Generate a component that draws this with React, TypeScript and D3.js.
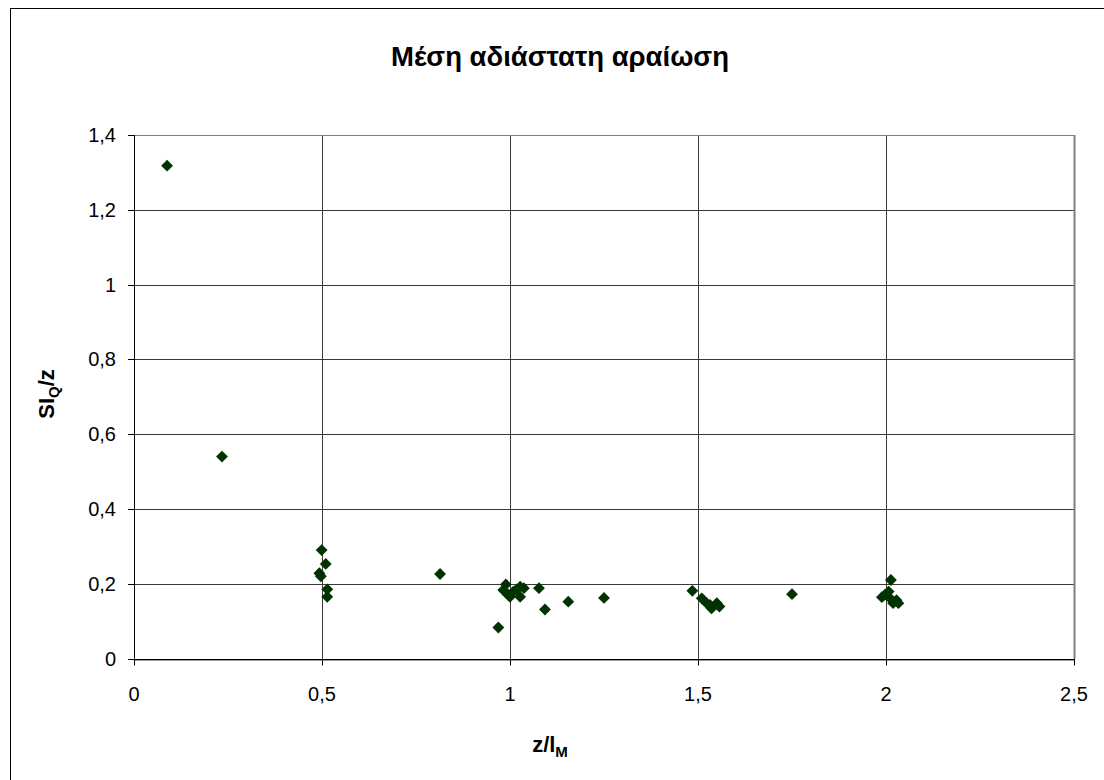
import React from "react";
import * as d3 from "d3";

const xValues: number[] = [
  0.088, 0.234,
  0.499, 0.51, 0.493, 0.497, 0.514, 0.514,
  0.814,
  0.989, 1.027, 1.037, 1.077, 1.0, 1.027, 1.093, 1.155, 0.969, 0.982, 1.009, 0.995, 1.018,
  1.25,
  1.485, 1.51, 1.523, 1.536, 1.55, 1.557, 1.532,
  1.75,
  2.013, 1.997, 1.989, 2.011, 2.028, 2.033, 2.019, 2.007,
];
const yValues: number[] = [
  1.318, 0.54,
  0.29, 0.253, 0.228, 0.22, 0.185, 0.165,
  0.226,
  0.198, 0.192, 0.188, 0.188, 0.165, 0.165, 0.131, 0.152, 0.083, 0.183, 0.179, 0.17, 0.185,
  0.162,
  0.181, 0.161, 0.148, 0.134, 0.148, 0.139, 0.143,
  0.172,
  0.21, 0.17, 0.164, 0.161, 0.156, 0.148, 0.148, 0.179,
];
const xTicks: number[] = [0, 0.5, 1, 1.5, 2, 2.5];
const yTicks: number[] = [0, 0.2, 0.4, 0.6, 0.8, 1, 1.2, 1.4];
const title = "Μέση αδιάστατη αραίωση";

const fmt = (v: number) => String(v).replace(".", ",");

export default function App() {
  const W = 1104, H = 780;
  const left = 134, right = 1074, top = 135, bottom = 658.5;
  const x = d3.scaleLinear().domain([0, 2.5]).range([left, right]);
  const y = d3.scaleLinear().domain([0, 1.4]).range([bottom, top]);
  const sym = d3.symbol().type(d3.symbolSquare).size(70)();
  const font = "Arial, 'Liberation Sans', sans-serif";
  return (
    <svg width={W} height={H} style={{ position: "absolute", left: 0, top: 0, background: "#fff" }} fontFamily={font}>
      <rect x={10.5} y={8.5} width={1300} height={1000} fill="#fff" stroke="#000" strokeWidth={1} />
      {/* grid */}
      {yTicks.filter(t => t > 0 && t < 1.4).map(t => (
        <line key={"gy" + t} x1={left} x2={right} y1={Math.round(y(t)) + 0.5} y2={Math.round(y(t)) + 0.5} stroke="#3a3a3a" strokeWidth={1} />
      ))}
      {xTicks.filter(t => t > 0 && t < 2.5).map(t => (
        <line key={"gx" + t} y1={top} y2={bottom} x1={Math.round(x(t)) + 0.5} x2={Math.round(x(t)) + 0.5} stroke="#3a3a3a" strokeWidth={1} />
      ))}
      {/* plot border top/right */}
      <line x1={left} x2={right} y1={Math.round(top) + 0.5} y2={Math.round(top) + 0.5} stroke="#808080" />
      <line x1={Math.round(right) + 0.5} x2={Math.round(right) + 0.5} y1={top} y2={bottom} stroke="#808080" strokeWidth={2} />
      {/* axes */}
      <line x1={left} x2={right} y1={Math.round(bottom) + 0.5} y2={Math.round(bottom) + 0.5} stroke="#000" />
      <line x1={left} x2={right} y1={Math.round(bottom) + 1.5} y2={Math.round(bottom) + 1.5} stroke="#999" />
      <line x1={Math.round(left) + 0.5} x2={Math.round(left) + 0.5} y1={top} y2={bottom} stroke="#000" />
      {yTicks.map(t => (
        <g key={"yt" + t}>
          <line x1={left - 6} x2={left} y1={Math.round(y(t)) + 0.5} y2={Math.round(y(t)) + 0.5} stroke="#000" />
          <text x={left - 18} y={y(t)} dy="0.35em" textAnchor="end" fontSize={20}>{fmt(t)}</text>
        </g>
      ))}
      {xTicks.map(t => (
        <g key={"xt" + t}>
          <line y1={bottom} y2={bottom + 7} x1={Math.round(x(t)) + 0.5} x2={Math.round(x(t)) + 0.5} stroke="#000" />
          <text x={x(t)} y={bottom + 42} textAnchor="middle" fontSize={20}>{fmt(t)}</text>
        </g>
      ))}
      {/* points */}
      {xValues.map((xv, i) => (
        <path key={"p" + i} d={sym} transform={`translate(${x(xv)},${y(yValues[i])}) rotate(45)`} fill="#003300" />
      ))}
      {/* title and labels */}
      <text x={560} y={66} textAnchor="middle" fontSize={27.5} fontWeight="bold">{title}</text>
      <text x={550} y={752} textAnchor="middle" fontSize={22} fontWeight="bold">
        z/l<tspan fontSize={15} dy={5}>M</tspan>
      </text>
      <text transform="translate(54,394) rotate(-90)" textAnchor="middle" fontSize={22} fontWeight="bold">
        SI<tspan fontSize={15} dy={5}>Q</tspan><tspan dy={-5}>/z</tspan>
      </text>
    </svg>
  );
}
